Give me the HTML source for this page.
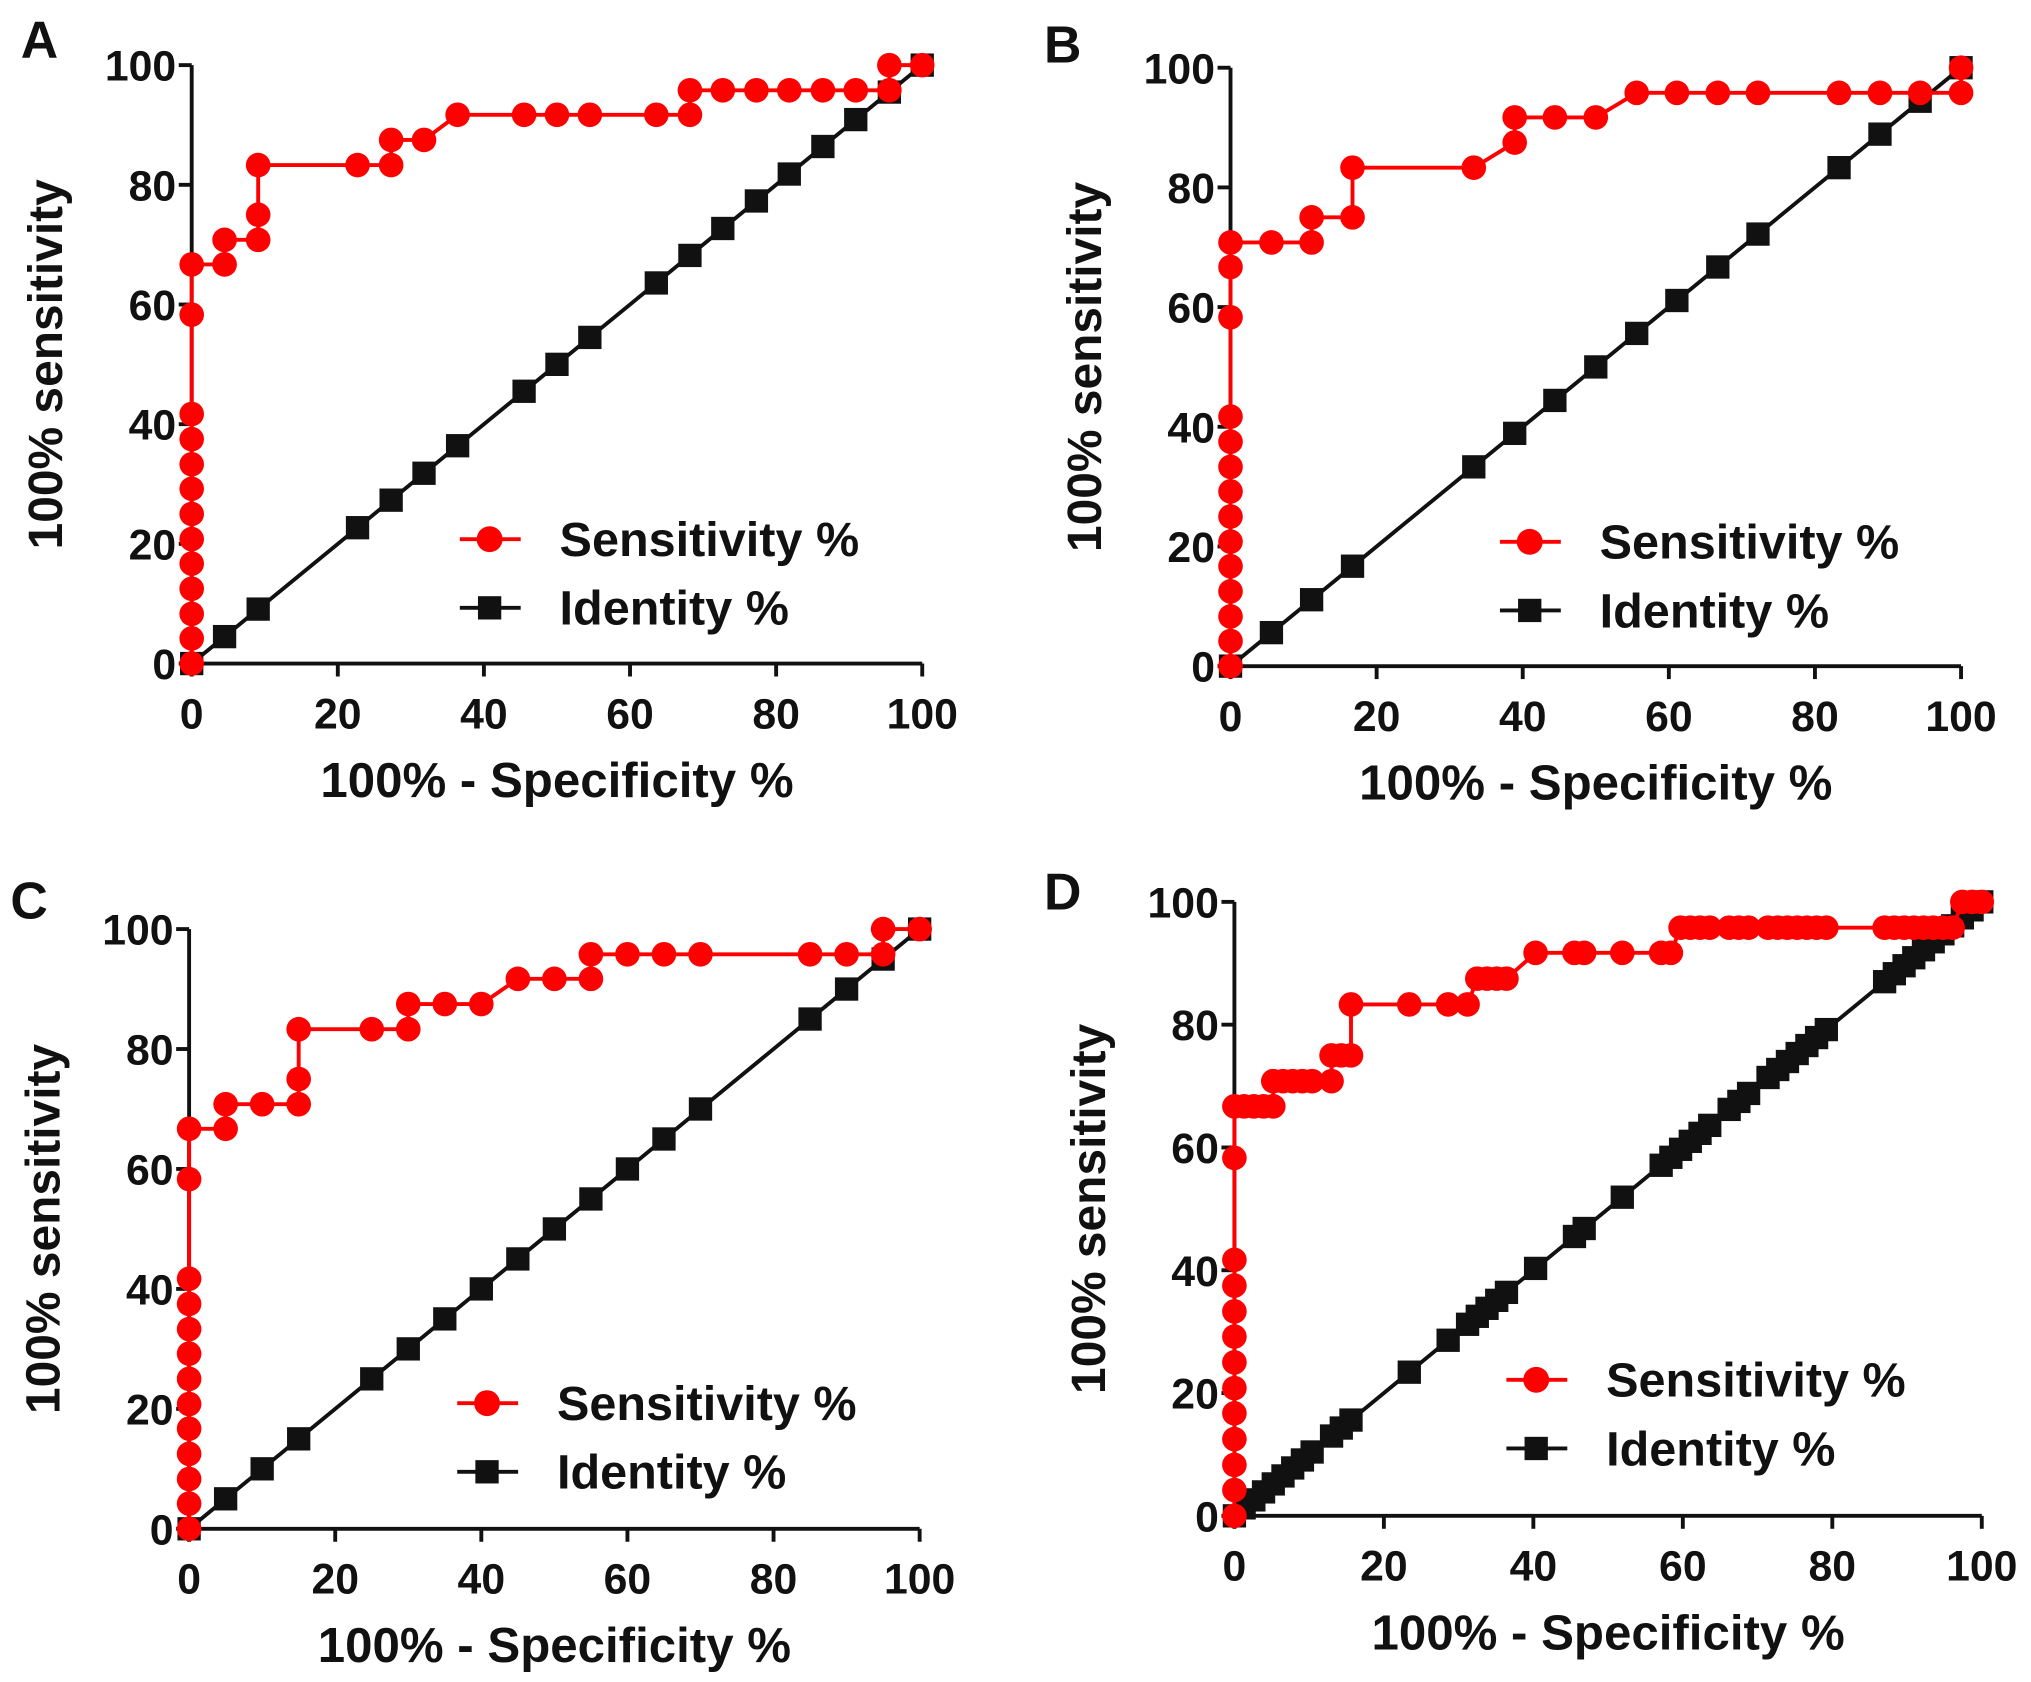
<!DOCTYPE html>
<html><head><meta charset="utf-8"><style>
html,body{margin:0;padding:0;background:#fff}
svg{display:block}
text{font-family:"Liberation Sans",Arial,sans-serif;font-weight:bold;fill:#111}
</style></head><body>
<svg id="fig" width="2031" height="1682" viewBox="0 0 1568 1298" xmlns="http://www.w3.org/2000/svg"></svg>
<script>
const tickLabels=[0,20,40,60,80,100];
const zeroCol=[0,4.2,8.3,12.5,16.7,20.8,25,29.2,33.3,37.5,41.7,58.3];
const sensAx=zeroCol.map(()=>0).concat([0,4.5,4.5,9.1,9.1,9.1,22.7,27.3,27.3,31.8,36.4,45.5,50,54.5,63.6,68.2,68.2,72.7,77.3,81.8,86.4,90.9,95.5,95.5,100]);
const sensAy=zeroCol.concat([66.7,66.7,70.8,70.8,75,83.3,83.3,83.3,87.5,87.5,91.7,91.7,91.7,91.7,91.7,91.7,95.8,95.8,95.8,95.8,95.8,95.8,95.8,100,100]);
const idA=[0,4.5,9.1,22.7,27.3,31.8,36.4,45.5,50,54.5,63.6,68.2,72.7,77.3,81.8,86.4,90.9,95.5,100];
const sensBx=zeroCol.map(()=>0).concat([0,0,5.6,11.1,11.1,16.7,16.7,33.3,38.9,38.9,44.4,50,55.6,61.1,66.7,72.2,83.3,88.9,94.4,100,100]);
const sensBy=zeroCol.concat([66.7,70.8,70.8,70.8,75,75,83.3,83.3,87.5,91.7,91.7,91.7,95.8,95.8,95.8,95.8,95.8,95.8,95.8,95.8,100]);
const idB=[0,5.6,11.1,16.7,33.3,38.9,44.4,50,55.6,61.1,66.7,72.2,83.3,88.9,94.4,100];
const sensCx=zeroCol.map(()=>0).concat([0,5,5,10,15,15,15,25,30,30,35,40,45,50,55,55,60,65,70,85,90,95,95,100]);
const sensCy=zeroCol.concat([66.7,66.7,70.8,70.8,70.8,75,83.3,83.3,83.3,87.5,87.5,87.5,91.7,91.7,91.7,95.8,95.8,95.8,95.8,95.8,95.8,95.8,100,100]);
const idC=[0,5,10,15,25,30,35,40,45,50,55,60,65,70,85,90,95,100];
const sensDx=zeroCol.map(()=>0).concat([0,1.3,2.6,3.9,5.2,5.2,6.5,7.8,9.1,10.4,13,13,14.3,15.6,15.6,23.4,28.6,31.2,32.5,33.8,35.1,36.4,40.3,45.5,46.8,51.9,57.1,58.4,59.7,61,62.3,63.6,66.2,67.5,68.8,71.4,72.7,74,75.3,76.6,77.9,79.2,87,88.3,89.6,90.9,92.2,93.5,94.8,96.1,97.4,98.7,100]);
const sensDy=zeroCol.concat([66.7,66.7,66.7,66.7,66.7,70.8,70.8,70.8,70.8,70.8,70.8,75,75,75,83.3,83.3,83.3,83.3,87.5,87.5,87.5,87.5,91.7,91.7,91.7,91.7,91.7,91.7,95.8,95.8,95.8,95.8,95.8,95.8,95.8,95.8,95.8,95.8,95.8,95.8,95.8,95.8,95.8,95.8,95.8,95.8,95.8,95.8,95.8,95.8,100,100,100]);
const idD=[0,1.3,2.6,3.9,5.2,6.5,7.8,9.1,10.4,13,14.3,15.6,23.4,28.6,31.2,32.5,33.8,35.1,36.4,40.3,45.5,46.8,51.9,57.1,58.4,59.7,61,62.3,63.6,66.2,67.5,68.8,71.4,72.7,74,75.3,76.6,77.9,79.2,87,88.3,89.6,90.9,92.2,93.5,94.8,96.1,97.4,98.7,100];

const NS='http://www.w3.org/2000/svg';
const svg=document.getElementById('fig');
function mk(tag,attrs,parent){const e=document.createElementNS(NS,tag);for(const k in attrs)e.setAttribute(k,attrs[k]);(parent||svg).appendChild(e);return e;}

const panels=[
 {id:'a',L:'A',lx:16,ly:44,x0:148,x1:712,y0:512,y1:50,sx:sensAx,sy:sensAy,id_:idA,legX:355,legY:416},
 {id:'b',L:'B',lx:806,ly:48,x0:950,x1:1514,y0:514,y1:52,sx:sensBx,sy:sensBy,id_:idB,legX:1158,legY:418},
 {id:'c',L:'C',lx:8,ly:709,x0:146,x1:710,y0:1180,y1:717,sx:sensCx,sy:sensCy,id_:idC,legX:353,legY:1083},
 {id:'d',L:'D',lx:806,ly:702,x0:953,x1:1530,y0:1170,y1:696,sx:sensDx,sy:sensDy,id_:idD,legX:1163,legY:1065}
];

panels.forEach(p=>{
 const g=mk('g',{});
 
 
 const X=v=>p.x0+(p.x1-p.x0)*v/100, Y=v=>p.y0+(p.y1-p.y0)*v/100;
 const lt=mk('text',{x:p.lx,y:p.ly,'font-size':40},g);lt.textContent=p.L;
 
 
 const ax=mk('path',{d:`M${p.x0} ${p.y1}V${p.y0}H${p.x1}`,stroke:'#111','stroke-width':3,fill:'none'},g);
 
 
 tickLabels.forEach(t=>{
  mk('line',{x1:X(t),x2:X(t),y1:p.y0,y2:p.y0+10,stroke:'#111','stroke-width':3},g);
  mk('line',{x1:p.x0-10,x2:p.x0,y1:Y(t),y2:Y(t),stroke:'#111','stroke-width':3},g);
  const tx=mk('text',{x:X(t),y:p.y0+50,'font-size':33,'text-anchor':'middle'},g);tx.textContent=t;
  
  
  const ty=mk('text',{x:p.x0-12,y:Y(t)+12,'font-size':33,'text-anchor':'end'},g);ty.textContent=t;
  
  
 });
 const xt=mk('text',{x:(p.x0+p.x1)/2,y:p.y0+103,'font-size':38,'text-anchor':'middle'},g);xt.textContent='100% - Specificity %';
 
 
 const cy=(p.y0+p.y1)/2;
 const yt=mk('text',{x:0,y:0,'font-size':37,'text-anchor':'middle',transform:`translate(${p.x0-100},${cy}) rotate(-90)`},g);yt.textContent='100% sensitivity';
 
 
 const il=mk('polyline',{points:p.id_.map(v=>X(v)+','+Y(v)).join(' '),stroke:'#111','stroke-width':3,fill:'none'},g);
 
 
 p.id_.forEach(v=>{const r=mk('rect',{x:X(v)-9,y:Y(v)-9,width:18,height:18,fill:'#111'},g);
  
  });
 const sl=mk('polyline',{points:p.sx.map((v,i)=>X(v)+','+Y(p.sy[i])).join(' '),stroke:'#f00','stroke-width':3,fill:'none'},g);
 
 
 p.sx.forEach((v,i)=>{const c=mk('circle',{cx:X(v),cy:Y(p.sy[i]),r:9.5,fill:'#f00'},g);
  
  });
 const lg=mk('g',{},g);
 
 
 mk('line',{x1:p.legX,x2:p.legX+47,y1:p.legY,y2:p.legY,stroke:'#f00','stroke-width':3},lg);
 mk('circle',{cx:p.legX+23,cy:p.legY,r:10,fill:'#f00'},lg);
 const s1=mk('text',{x:p.legX+77,y:p.legY+13,'font-size':37.5},lg);s1.textContent='Sensitivity %';
 
 
 mk('line',{x1:p.legX,x2:p.legX+47,y1:p.legY+53,y2:p.legY+53,stroke:'#111','stroke-width':3},lg);
 mk('rect',{x:p.legX+14,y:p.legY+44,width:18,height:18,fill:'#111'},lg);
 const s2=mk('text',{x:p.legX+77,y:p.legY+66,'font-size':37.5},lg);s2.textContent='Identity %';
 
 
});
</script>
</body></html>
